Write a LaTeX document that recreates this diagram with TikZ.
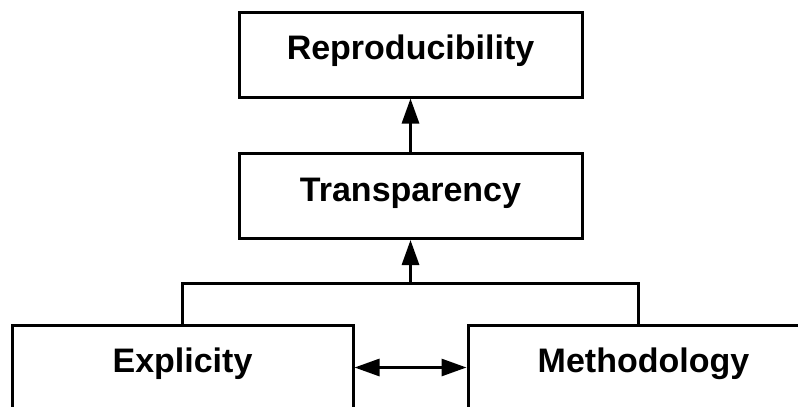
\documentclass[tikz,border=0pt]{standalone}
\usepackage{fontspec}
\setmainfont{Liberation Sans}
\usetikzlibrary{arrows.meta,positioning}

\begin{document}
\begin{tikzpicture}[x=1pt,y=-1pt,
  box/.style={draw=black,line width=3pt,minimum width=343pt,minimum height=85pt,
    inner sep=0pt,text height=20pt,text depth=10pt,
    font=\fontsize{34}{40}\selectfont\bfseries},
  lowbox/.style={box,minimum width=341pt},
  link/.style={black,line width=3pt},
  tip/.style={-{Triangle[length=25pt,width=17pt]}}]
\useasboundingbox (0,0) rectangle (798,407);
\clip (0,0) rectangle (798,407);
\node [box] (repro) at (410.5,54.5) {Reproducibility};
\node [box] (transp) at (410.5,196) {Transparency};
\node [lowbox] (expl) at (182.5,367.5) {Explicity};
\node [lowbox,minimum width=351pt] (meth) at (643.5,367.5) {Methodology};
\coordinate (bus) at (410.5,283);
\draw [link,tip] (transp.north) -- (repro.south);
\draw [link] (expl.north) |- (bus) -| ([xshift=-5.5pt]meth.north);
\draw [link,tip] (bus) -- (transp.south);
\draw [link,{Triangle[length=25pt,width=17pt]}-{Triangle[length=25pt,width=17pt]}] (expl.east) -- (meth.west);
\end{tikzpicture}
\end{document}
